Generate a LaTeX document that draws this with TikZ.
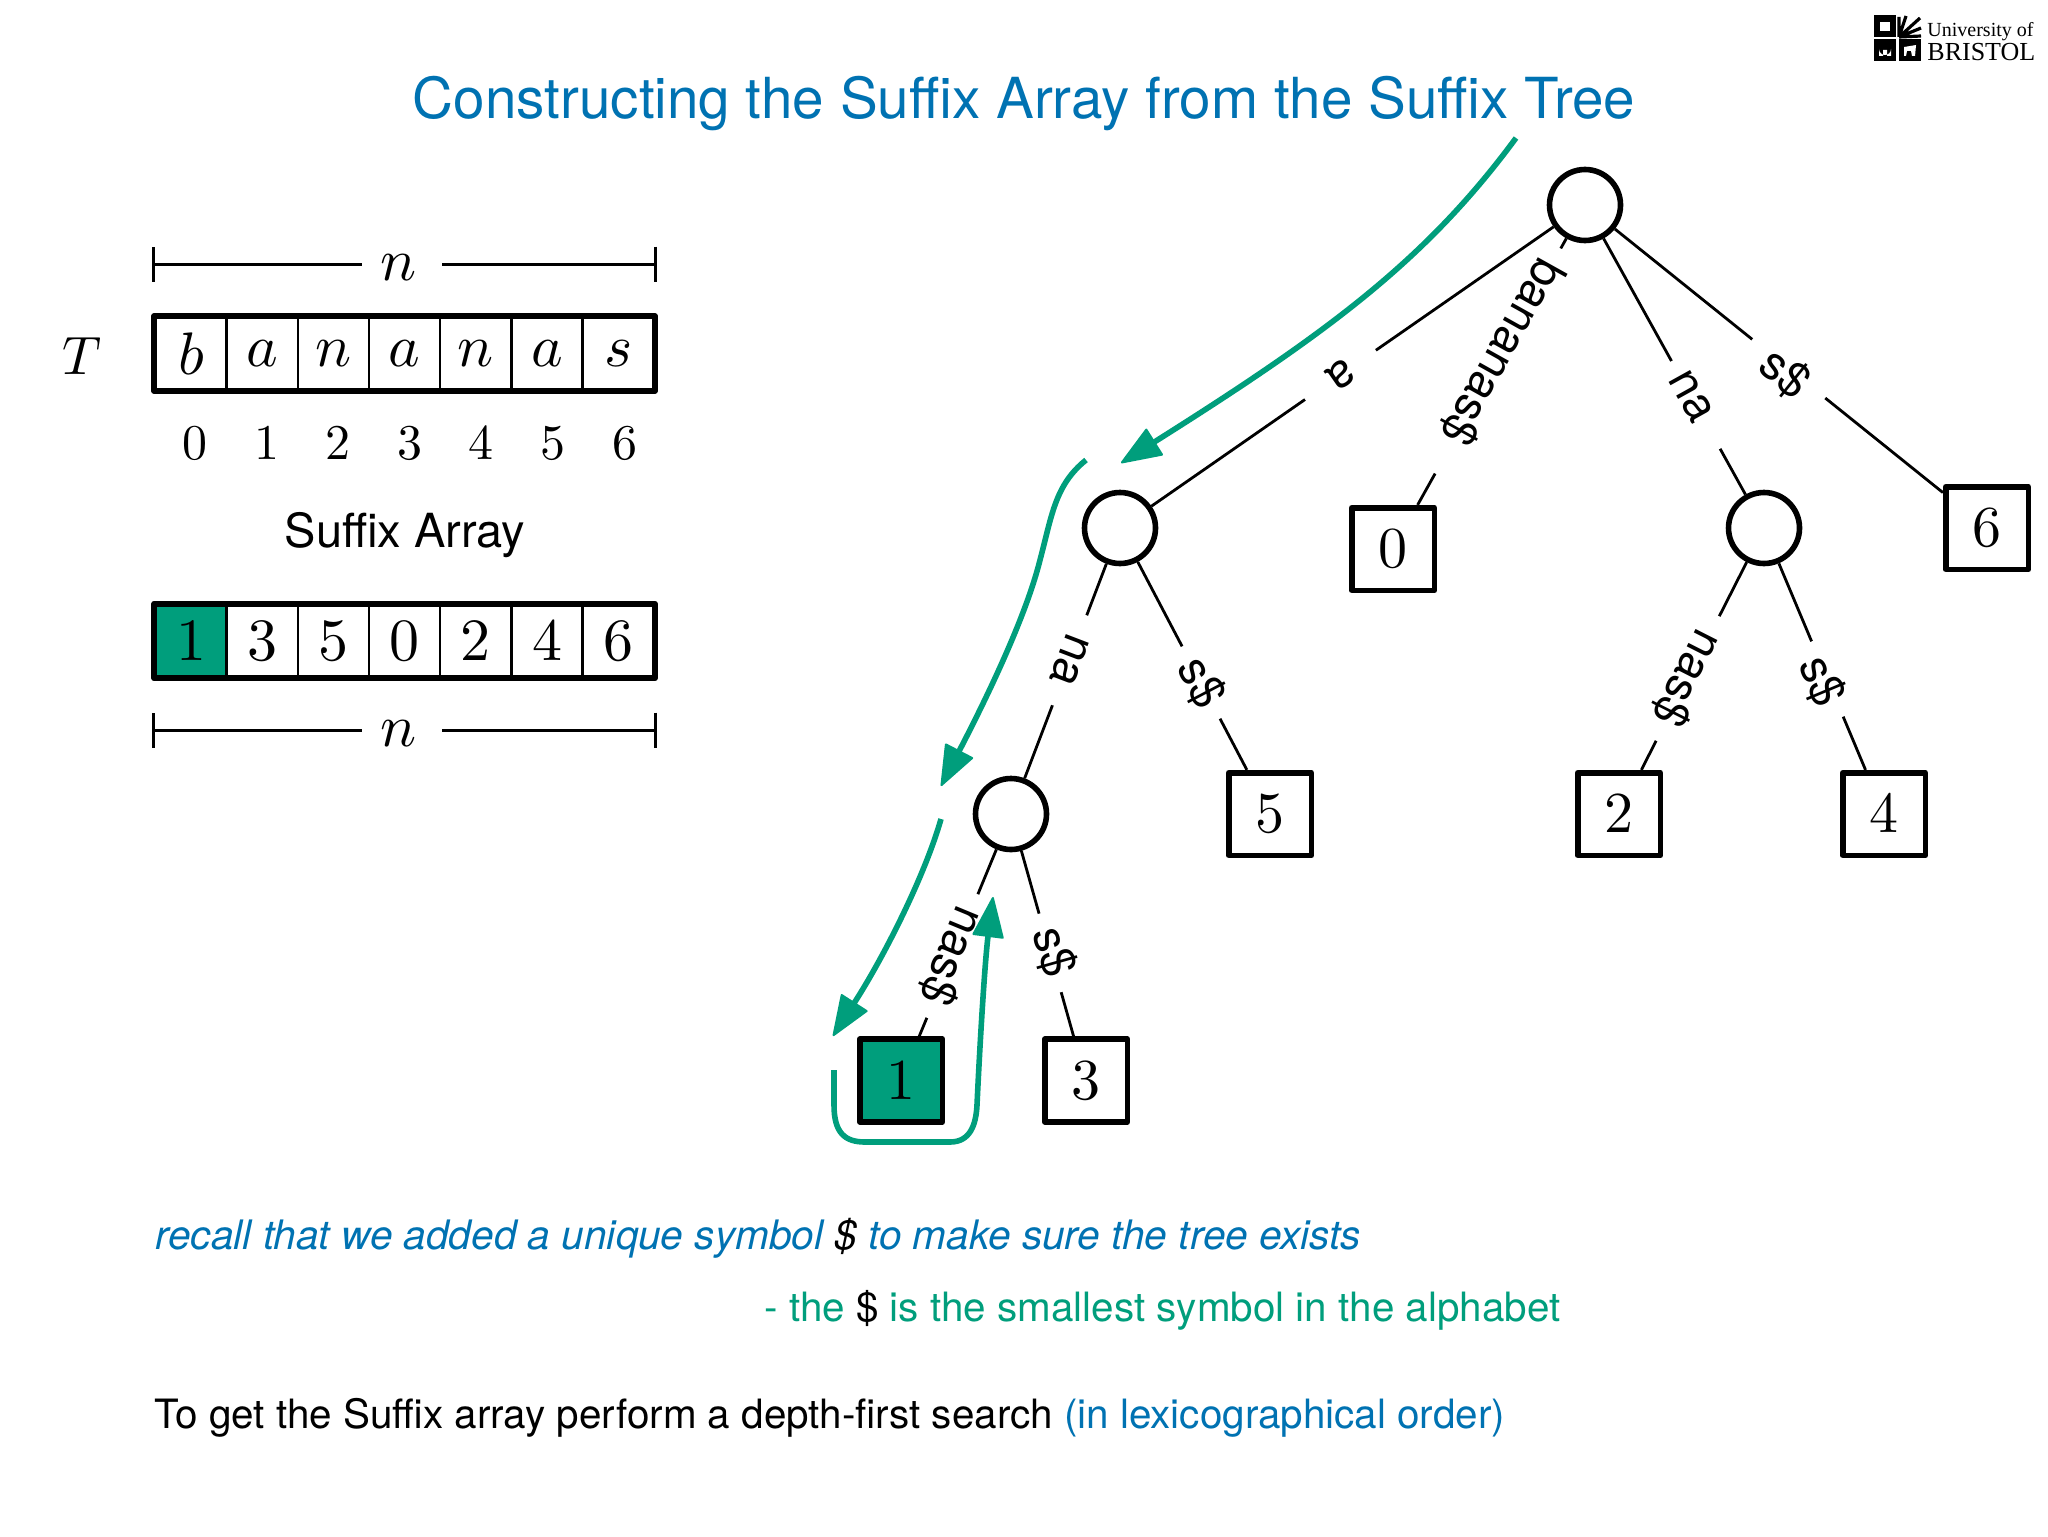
\documentclass[tikz,border=0pt]{standalone}
\usepackage{fontspec}
\setmainfont{TeX Gyre Heros}
\newfontfamily\logofont{Liberation Serif}
\usetikzlibrary{arrows.meta}
\DeclareFontShape{OT1}{cmr}{m}{n}{<->cmr10}{}
\DeclareFontShape{OML}{cmm}{m}{it}{<->cmmi10}{}
\definecolor{slideblue}{HTML}{0072B2}
\definecolor{slidegreen}{HTML}{009E7C}
\newcommand{\fsize}[1]{\fontsize{#1pt}{#1pt}\selectfont}
\tikzset{
    node distance=35.6pt,
    }

\begin{document}
\begin{tikzpicture}[
x=0.5pt, y=-0.5pt,
cellnode/.style={rectangle, draw=black, line width=1.2pt, minimum width=35.6pt, minimum height=36pt, inner sep=0pt, font=\fsize{30}},
indexnode/.style={inner sep=0pt, node distance=35.8pt, font=\fsize{25}},
framebox/.style={draw=black, line width=3pt, line join=round},
dimnode/.style={inner ysep=0pt, inner xsep=9.5pt, text height=16pt, font=\fsize{30}},
dimline/.style={line width=1.5pt, {Bar[width=17.5pt]}-},
roundnode/.style={circle, draw=black, fill=white, line width=2.8pt, minimum size=35.5pt, inner sep=0pt},
leafnode/.style={rectangle, draw=black, fill=white, line width=2.8pt, line join=round, minimum size=41.3pt, inner sep=0pt, font=\fsize{29}},
treeedge/.style={line width=1.4pt},
edgelabel/.style={sloped, allow upside down, fill=white, inner ysep=0pt, inner xsep=8pt, font=\fsize{23.4}},
walk/.style={draw=slidegreen, line width=2.8pt},
walktip/.style={walk, -{Triangle[length=21pt,width=16pt,line width=1pt,round]}},
]
\useasboundingbox (0,0) rectangle (2048,1536);

\node[font=\fsize{28.3}, text=slideblue] (title) at (1024,104) {Constructing the Suffix Array from the Suffix Tree};

% logo
\fill[black] (1874,15) rectangle (1896,37);
\fill[black] (1874,39) rectangle (1896,61);
\fill[black] (1899,39) rectangle (1921,61);
\fill[white] (1880,22) rectangle (1890,31);
\fill[white] (1879,56) -- (1879,49) arc[start angle=180, end angle=0, radius=6] -- (1891,56) -- (1887,56) -- (1887,50) -- (1883,50) -- (1883,56) -- cycle;
\fill[white] (1904,47) -- (1916,45) -- (1915,56) -- (1912,56) -- (1911,51) -- (1907,51) -- (1906,56) -- (1904,56) -- cycle;
\draw[black, line width=1.6pt] (1899,37) -- (1899,17) (1899,37) -- (1906,16) (1899,37) -- (1920,18) (1899,37) -- (1921,28) (1899,37) -- (1921,36);
\node[font=\logofont\fsize{10}, inner sep=0pt, anchor=west] (logotop) at (1927,32) {University of};
\node[font=\logofont\fsize{13}, inner sep=0pt, anchor=west] (logobot) at (1927,52) {BRISTOL};

% text array
\node[font=\fsize{27}, inner sep=0pt] (Tlabel) at (82,356) {$T$};
\node[cellnode] (t0) at (191,353.5) {$b$};
\node[cellnode] (t1) [right of=t0] {$a$};
\node[cellnode] (t2) [right of=t1] {$n$};
\node[cellnode] (t3) [right of=t2] {$a$};
\node[cellnode] (t4) [right of=t3] {$n$};
\node[cellnode] (t5) [right of=t4] {$a$};
\node[cellnode] (t6) [right of=t5] {$s$};
\draw[framebox] (t0.north west) rectangle (t6.south east);

\node[indexnode] (i0) at (195,443) {$0$};
\node[indexnode] (i1) [right of=i0] {$1$};
\node[indexnode] (i2) [right of=i1] {$2$};
\node[indexnode] (i3) [right of=i2] {$3$};
\node[indexnode] (i4) [right of=i3] {$4$};
\node[indexnode] (i5) [right of=i4] {$5$};
\node[indexnode] (i6) [right of=i5] {$6$};

\node[font=\fsize{23.5}, inner sep=0pt] (salabel) at (405,535) {Suffix Array};

% suffix array
\node[cellnode, fill=slidegreen] (s0) at (191,641) {$1$};
\node[cellnode] (s1) [right of=s0] {$3$};
\node[cellnode] (s2) [right of=s1] {$5$};
\node[cellnode] (s3) [right of=s2] {$0$};
\node[cellnode] (s4) [right of=s3] {$2$};
\node[cellnode] (s5) [right of=s4] {$4$};
\node[cellnode] (s6) [right of=s5] {$6$};
\draw[framebox] (s0.north west) rectangle (s6.south east);

% length marks
\node[dimnode] (ntop) at (402,264) {$n$\hspace*{3pt}};
\coordinate (ntopl) at (152,264);
\coordinate (ntopr) at (657,264);
\draw[dimline] (ntopl) -- (ntop);
\draw[dimline] (ntopr) -- (ntop);
\node[dimnode] (nbot) at (402,730) {$n$\hspace*{3pt}};
\coordinate (nbotl) at (152,730);
\coordinate (nbotr) at (657,730);
\draw[dimline] (nbotl) -- (nbot);
\draw[dimline] (nbotr) -- (nbot);

% tree
\node[roundnode] (root) at (1585,205) {};
\node[roundnode] (na) at (1120,528) {};
\node[roundnode] (nn) at (1764,528) {};
\node[roundnode] (nana) at (1011,814) {};
\node[leafnode] (leaf0) at (1393,549) {$0$};
\node[leafnode] (leaf6) at (1987,528) {$6$};
\node[leafnode] (leaf5) at (1270,814) {$5$};
\node[leafnode] (leaf2) at (1619,814) {$2$};
\node[leafnode] (leaf4) at (1884,814) {$4$};
\node[leafnode, fill=slidegreen] (leaf1) at (901,1080.5) {$1$};
\node[leafnode] (leaf3) at (1086,1080.5) {$3$};

\draw[treeedge] (root) -- node[edgelabel, pos=.53, inner xsep=15pt] {a} (na);
\draw[treeedge] (root) -- node[edgelabel, pos=.46, inner xsep=8pt] {bananas\$\hspace*{10pt}} (leaf0);
\draw[treeedge] (root) -- node[edgelabel, pos=.65, inner xsep=7pt] {na\hspace*{10pt}} (nn);
\draw[treeedge] (root) -- node[edgelabel, pos=.53, inner xsep=11pt, text height=24pt] {s\$} (leaf6);
\draw[treeedge] (na) -- node[edgelabel, pos=.45, inner xsep=11pt] {na} (nana);
\draw[treeedge] (na) -- node[edgelabel, pos=.58] {s\$} (leaf5);
\draw[treeedge] (nn) -- node[edgelabel, pos=.56, inner xsep=9.5pt] {nas\$} (leaf2);
\draw[treeedge] (nn) -- node[edgelabel, pos=.56, text height=24pt] {s\$} (leaf4);
\draw[treeedge] (nana) -- node[edgelabel, pos=.57] {nas\$} (leaf1);
\draw[treeedge] (nana) -- node[edgelabel, pos=.55, text depth=7pt] {s\$} (leaf3);

% depth-first walk
\coordinate (walka) at (1516,138);
\coordinate (walkb) at (1121,463);
\coordinate (walkc) at (1086,460);
\coordinate (walkd) at (941,786);
\coordinate (walke) at (941,819);
\coordinate (walkf) at (833,1036);
\coordinate (walkg) at (834,1070);
\coordinate (walkh) at (993,897);
\draw[walktip] (walka) .. controls (1426,260) and (1329,332) .. (walkb);
\draw[walktip] (walkc) .. controls (1055,485) and (1052,515) .. (1040,560) .. controls (1025,620) and (983,705) .. (walkd);
\draw[walktip] (walke) .. controls (925,875) and (885,955) .. (walkf);
\draw[walktip] (walkg) -- (834,1105) .. controls (834,1133) and (845,1142) .. (865,1142) -- (950,1142) .. controls (970,1142) and (976,1125) .. (977,1105) .. controls (980,1040) and (985,960) .. (walkh);

% notes
\node[font=\itshape\fsize{20.3}, text=slideblue, anchor=west, inner sep=0pt] (recall) at (155,1238) {recall that we added a unique symbol \textcolor{black}{\$} to make sure the tree exists};
\node[font=\fsize{20.2}, text=slidegreen, anchor=west, inner sep=0pt] (dollar) at (764,1310) {- the \textcolor{black}{\$} is the smallest symbol in the alphabet};
\node[font=\fsize{20.2}, anchor=west, inner sep=0pt] (howto) at (154,1418) {To get the Suffix array perform a depth-first search \textcolor{slideblue}{(in lexicographical order)}};
\end{tikzpicture}
\end{document}
